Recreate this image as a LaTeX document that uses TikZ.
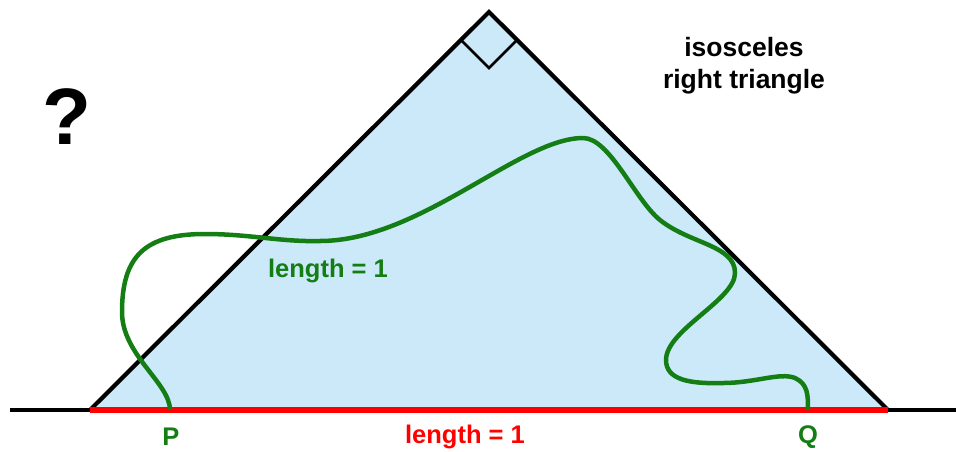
\documentclass[tikz,border=0pt]{standalone}
\usepackage{fontspec}
\setmainfont{Liberation Sans}
\definecolor{tri}{RGB}{204,233,250}
\definecolor{grn}{RGB}{20,125,20}
\definecolor{rd}{RGB}{255,0,0}
\begin{document}
\begin{tikzpicture}[x=1pt,y=-1pt,
  lbl/.style={font=\bfseries\fontsize{25.5}{29}\selectfont, inner sep=0pt},
  edge/.style={line width=4.2pt, black, line join=miter}]
\useasboundingbox (0,0) rectangle (956,451);
\coordinate (A) at (489,12);
\coordinate (B) at (90,410);
\coordinate (C) at (888,410);
\coordinate (L) at (10,410);
\coordinate (R) at (956,410);
\coordinate (p) at (170,410);
\coordinate (q) at (808,410);
\fill[tri] (B) -- (A) -- (C) -- cycle;
\draw[line width=2.5pt] (462,41) -- (489,68) -- (516,41);
\draw[edge] (L) -- (B);
\draw[edge] (C) -- (R);
\draw[edge] (B) -- (A) -- (C);
\draw[rd, line width=6.5pt] (B) -- (C);
\draw[grn, line width=4.5pt]
 (p) .. controls (170,383) and (122,355) .. (122,312)
     .. controls (122,256) and (145,234) .. (205,234)
     .. controls (250,234) and (280,242) .. (320,241)
     .. controls (420,241) and (520,138) .. (583,138)
     .. controls (610,138) and (635,200) .. (660,220)
     .. controls (690,244) and (735,245) .. (735,273)
     .. controls (735,300) and (666,330) .. (666,360)
     .. controls (666,380) and (690,384) .. (723,383)
     .. controls (755,383) and (780,372) .. (795,378)
     .. controls (808,384) and (808,395) .. (q);
\node[font=\bfseries\fontsize{80}{85}\selectfont, inner sep=0pt] (qm) at (67,117) {?};
\node[lbl, align=center, font=\bfseries\fontsize{26.5}{32}\selectfont] (iso) at (744,66) {isosceles\\right triangle};
\node[lbl, text=grn] (lg) at (328,271) {length = 1};
\node[lbl, text=grn] (P) at (171,437) {P};
\node[lbl, text=grn] (Q) at (808,437) {Q};
\node[lbl, text=rd] (lr) at (465,437) {length = 1};
\end{tikzpicture}
\end{document}
